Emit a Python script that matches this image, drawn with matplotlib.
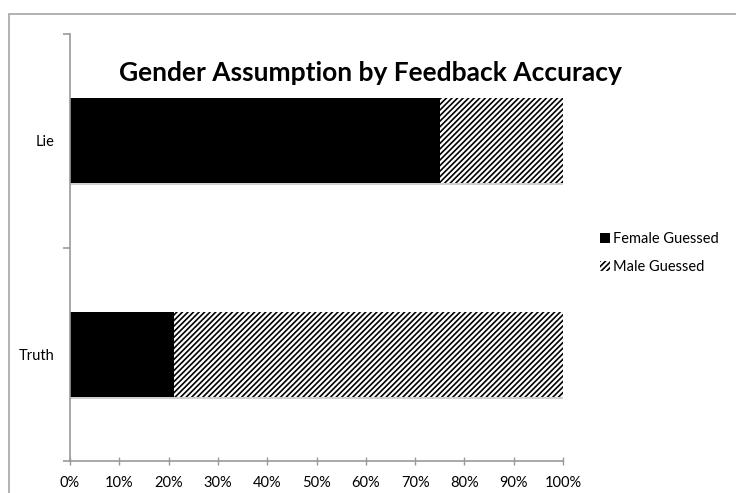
import matplotlib
matplotlib.use("Agg")
import matplotlib.pyplot as plt
from matplotlib.patches import Rectangle, Patch
from matplotlib.ticker import PercentFormatter
import matplotlib.transforms as mtransforms

plt.rcParams['font.family'] = ['Lato', 'DejaVu Sans']
plt.rcParams['hatch.linewidth'] = 1.2

categories = ["Truth", "Lie"]
female_guessed = [21, 75]
male_guessed = [79, 25]
series_names = ["Female Guessed", "Male Guessed"]
x_ticks = list(range(0, 101, 10))

W, H = 736, 493
fig = plt.figure(figsize=(W / 100, H / 100), dpi=100)

# chart-area frame
fig.patches.append(Rectangle((9 / W, -0.1), 1.2, 1 - 14 / H + 0.1,
                             transform=fig.transFigure, fill=False,
                             edgecolor="#a6a6a6", linewidth=1.2))

ax = fig.add_axes([70 / W, 1 - 461 / H, (563 - 70) / W, (461 - 34) / H])

y = list(range(len(categories)))
bar_h = 0.40
totals = [f + m for f, m in zip(female_guessed, male_guessed)]

# soft drop shadow under each bar
shadow_tf = ax.transData + mtransforms.ScaledTranslation(0, -2 / 100, fig.dpi_scale_trans)
ax.barh(y, totals, height=bar_h, color="#d0d0d0", linewidth=0,
        transform=shadow_tf, zorder=1)

ax.barh(y, female_guessed, height=bar_h, color="black", edgecolor="black",
        linewidth=0, label=series_names[0], zorder=2)
ax.barh(y, male_guessed, left=female_guessed, height=bar_h, color="white",
        edgecolor="black", hatch="//////", linewidth=0, label=series_names[1],
        zorder=2)

ax.set_xlim(0, 100)
ax.set_ylim(-0.5, 1.5)
ax.set_xticks(x_ticks)
ax.xaxis.set_major_formatter(PercentFormatter(decimals=0))
ax.set_yticks(y)
ax.set_yticklabels(categories)
ax.set_yticks([-0.5, 0.5, 1.5], minor=True)

for s in ["top", "right"]:
    ax.spines[s].set_visible(False)
for s in ["left", "bottom"]:
    ax.spines[s].set_color("#999999")
    ax.spines[s].set_linewidth(1.2)

ax.tick_params(axis="y", which="major", length=0, pad=11, labelsize=10.5)
ax.tick_params(axis="y", which="minor", length=5, width=1.2, color="#999999")
ax.tick_params(axis="x", which="major", length=6, width=1, color="#999999",
               direction="inout", pad=8, labelsize=10.5)

fig.text(370 / W, 1 - 73 / H, "Gender Assumption by Feedback Accuracy",
         ha="center", va="center", fontsize=19, fontweight="bold")

handles = [Patch(facecolor="black", edgecolor="black", linewidth=0),
           Patch(facecolor="white", edgecolor="black", hatch="//////", linewidth=0)]
fig.legend(handles, series_names, loc="center left",
           bbox_to_anchor=(594 / W, 1 - 253 / H), frameon=False,
           fontsize=10.5, handlelength=0.7, handleheight=0.7,
           handletextpad=0.2, labelspacing=1.0, borderaxespad=0)

fig.savefig("out.png", dpi=100)
